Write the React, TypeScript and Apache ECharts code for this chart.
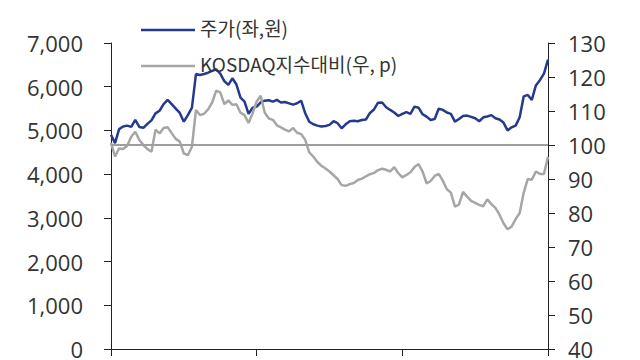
import React, { useEffect, useRef } from "react";
import * as echarts from "echarts";

const stockPrice = [
  4900, 4710, 5030, 5090, 5110, 5080, 5240, 5080, 5060, 5150,
  5230, 5390, 5450, 5600, 5697, 5600, 5500, 5400, 5200, 5350,
  5520, 6290, 6270, 6290, 6320, 6360, 6400, 6300, 6130, 6041,
  6193, 6050, 5750, 5660, 5380, 5520, 5545, 5640, 5680, 5690,
  5660, 5698, 5640, 5650, 5620, 5590, 5621, 5680, 5392, 5200,
  5140, 5110, 5088, 5100, 5126, 5210, 5165, 5050, 5140, 5210,
  5220, 5210, 5240, 5250, 5400, 5480, 5636, 5640, 5530, 5469,
  5410, 5330, 5380, 5420, 5380, 5545, 5520, 5370, 5316, 5240,
  5260, 5500, 5470, 5410, 5380, 5202, 5260, 5330, 5340, 5310,
  5278, 5210, 5300, 5320, 5350, 5278, 5250, 5180, 5000, 5070,
  5110, 5300, 5780, 5812, 5697, 6030, 6150, 6300, 6620,
];

const kosdaqRelative = [
  100.6, 96.6, 99, 98.8, 99.8, 102.4, 103.9, 101.5, 100, 98.8,
  98, 104.5, 103.4, 105, 105.2, 103.5, 101.8, 101, 97.5, 97,
  99.5, 110.3, 108.8, 109.2, 110.5, 112.5, 116, 115.5, 112, 113.1,
  111.8, 112, 109.5, 108.8, 106.5, 109.3, 112.8, 114.5, 109.5, 107.8,
  107.4, 105.8, 105.2, 104.5, 104, 105, 103.6, 103.2, 101.5, 97.8,
  96.6, 95, 93.9, 93.1, 92.2, 91.1, 90, 88.2, 88, 88.5,
  88.8, 89.7, 90.1, 90.8, 91.4, 91.8, 92.6, 93, 92.7, 92.2,
  93.5, 91.7, 90.5, 91.2, 92, 93.5, 94.4, 92.2, 88.7, 89.4,
  90.9, 91.5, 89.5, 87, 86, 81.9, 82.5, 86.2, 84.8, 83.6,
  83, 82.4, 82, 84, 82.6, 81.5, 79.5, 77, 75.2, 76,
  78.2, 80, 86, 90, 89.8, 92.2, 91.5, 91.5, 96.5,
];

const dayIndex = stockPrice.map((_, i) => String(i + 1));

const seriesNames = ["주가(좌,원)", "KOSDAQ지수대비(우, p)"];
const baseLevel = 100;

const BLUE = "#253A8E";
const GRAY = "#A6A6A6";
const AXIS = "#222222";
const LABEL = "#333333";

export default function App() {
  const ref = useRef<HTMLDivElement>(null);

  useEffect(() => {
    if (!ref.current) return;
    const chart = echarts.init(ref.current, undefined, { renderer: "svg" });
    const labelFont = { fontFamily: "'Open Sans', 'Noto Sans', sans-serif", fontSize: 22, color: LABEL };
    chart.setOption({
      animation: false,
      backgroundColor: "#ffffff",
      grid: { left: 111, right: 92, top: 43, bottom: 11, containLabel: false },
      xAxis: {
        type: "category",
        data: dayIndex,
        boundaryGap: false,
        axisLine: { lineStyle: { color: AXIS, width: 1 } },
        axisTick: { show: true, interval: 35, length: 7, lineStyle: { color: AXIS } },
        axisLabel: { show: false },
        splitLine: { show: false },
      },
      yAxis: [
        {
          type: "value",
          min: 0,
          max: 7000,
          interval: 1000,
          position: "left",
          axisLine: { show: true, lineStyle: { color: AXIS, width: 1 } },
          axisTick: { show: true, length: 7, lineStyle: { color: AXIS } },
          axisLabel: {
            ...labelFont,
            margin: 28,
            formatter: (v: number) => v.toLocaleString("en-US"),
          },
          splitLine: { show: false },
        },
        {
          type: "value",
          min: 40,
          max: 130,
          interval: 10,
          position: "right",
          axisLine: { show: true, lineStyle: { color: AXIS, width: 1 } },
          axisTick: { show: true, length: 7, lineStyle: { color: AXIS } },
          axisLabel: { ...labelFont, margin: 20 },
          splitLine: { show: false },
        },
      ],
      series: [
        {
          name: seriesNames[0],
          type: "line",
          yAxisIndex: 0,
          data: stockPrice,
          showSymbol: false,
          symbol: "none",
          lineStyle: { color: BLUE, width: 2.5 },
          itemStyle: { color: BLUE },
          z: 3,
        },
        {
          name: seriesNames[1],
          type: "line",
          yAxisIndex: 1,
          data: kosdaqRelative,
          showSymbol: false,
          symbol: "none",
          lineStyle: { color: GRAY, width: 2.5 },
          itemStyle: { color: GRAY },
          z: 4,
          markLine: {
            silent: true,
            symbol: ["none", "none"],
            label: { show: false },
            lineStyle: { color: "#9E9E9E", width: 2, type: "solid" },
            data: [{ yAxis: baseLevel }],
          },
        },
      ],
      graphic: [
        { type: "line", shape: { x1: 141, y1: 30, x2: 195, y2: 30 }, style: { stroke: BLUE, lineWidth: 2.5 }, z: 10 },
        {
          type: "text",
          left: 200,
          top: 18,
          style: { text: seriesNames[0], fontFamily: "'Noto Sans CJK KR', sans-serif", fontSize: 19, fill: LABEL },
          z: 10,
        },
        { type: "line", shape: { x1: 141, y1: 66, x2: 195, y2: 66 }, style: { stroke: GRAY, lineWidth: 2.5 }, z: 10 },
        {
          type: "text",
          left: 200,
          top: 54,
          style: { text: seriesNames[1], fontFamily: "'Noto Sans CJK KR', sans-serif", fontSize: 19, fill: LABEL },
          z: 10,
        },
      ],
    });
    return () => chart.dispose();
  }, []);

  return <div ref={ref} style={{ width: 640, height: 360, position: "absolute", left: 0, top: 0 }} />;
}
